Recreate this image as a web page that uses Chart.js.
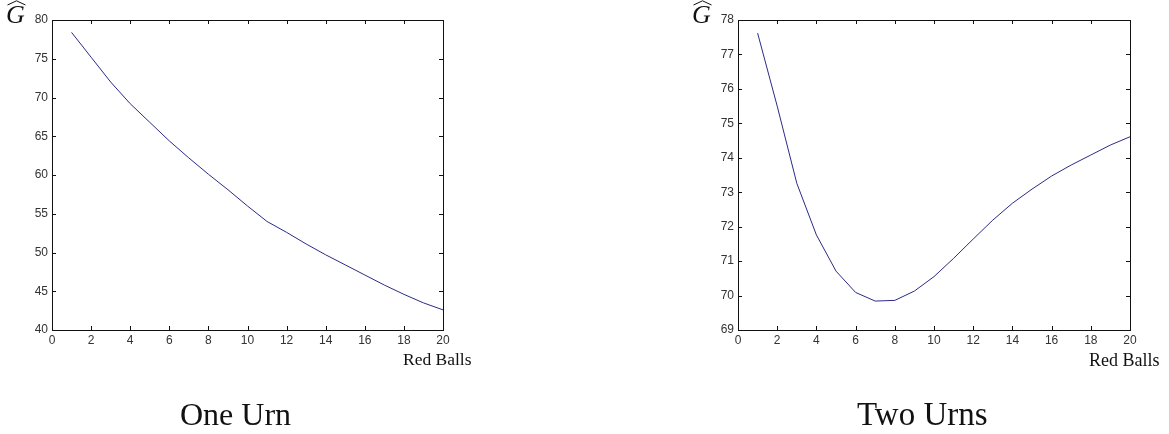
<!DOCTYPE html>
<html>
<head>
<meta charset="utf-8">
<script src="https://cdn.jsdelivr.net/npm/chart.js@4/dist/chart.umd.min.js"></script>
<style>
  html, body { margin: 0; padding: 0; background: #fff; }
  body { width: 1169px; height: 434px; position: relative; overflow: hidden; }
  .box { position: absolute; top: 0; height: 434px; }
  .txt { position: absolute; font-family: "Liberation Serif", "DejaVu Serif", serif; color: #111; line-height: 1; white-space: nowrap; }
  .g { font-style: italic; font-size: 26px; }
  .hat { position: absolute; }
</style>
</head>
<body>
<div class="box" style="left:0;width:480px"><canvas id="one"></canvas></div>
<div class="box" style="left:686px;width:483px"><canvas id="two"></canvas></div>

<span class="txt g" style="left:6px;top:2px">G</span>
<svg class="hat" style="left:7px;top:0" width="19" height="6"><polyline points="0.5,5 9.5,0.8 18.5,5" fill="none" stroke="#111" stroke-width="1"/></svg>
<span class="txt g" style="left:692px;top:2px">G</span>
<svg class="hat" style="left:693px;top:0" width="19" height="6"><polyline points="0.5,5 9.5,0.8 18.5,5" fill="none" stroke="#111" stroke-width="1"/></svg>

<span class="txt" style="left:403px;top:351px;font-size:17.5px">Red Balls</span>
<span class="txt" style="left:1089px;top:351px;font-size:18px">Red Balls</span>
<span class="txt" style="left:180px;top:398px;font-size:32px">One Urn</span>
<span class="txt" style="left:857px;top:398px;font-size:33px">Two Urns</span>

<script>
// number of red balls
const redBalls = [1, 2, 3, 4, 5, 6, 7, 8, 9, 10, 11, 12, 13, 14, 15, 16, 17, 18, 19, 20];
// G-hat, one urn
const oneUrn = [78.4, 75.2, 72.0, 69.2, 66.8, 64.4, 62.2, 60.1, 58.1, 56.0,
                54.0, 52.6, 51.1, 49.7, 48.4, 47.1, 45.8, 44.6, 43.5, 42.6];
// G-hat, two urns
const twoUrns = [77.62, 75.5, 73.26, 71.76, 70.71, 70.09, 69.84, 69.86, 70.13, 70.55,
                 71.08, 71.64, 72.19, 72.68, 73.09, 73.47, 73.79, 74.08, 74.37, 74.61];

const xTicks = [0, 2, 4, 6, 8, 10, 12, 14, 16, 18, 20];
const yTicksOne = [40, 45, 50, 55, 60, 65, 70, 75, 80];
const yTicksTwo = [69, 70, 71, 72, 73, 74, 75, 76, 77, 78];

// matlab style box with inward ticks on all sides
const frame = {
  id: 'frame',
  afterDraw(chart) {
    const { ctx, chartArea: a, scales: { x, y } } = chart;
    ctx.save();
    ctx.strokeStyle = '#111';
    ctx.lineWidth = 1;
    ctx.strokeRect(Math.round(a.left) + 0.5, Math.round(a.top) + 0.5,
                   Math.round(a.right - a.left), Math.round(a.bottom - a.top));
    ctx.beginPath();
    x.ticks.forEach(t => {
      const px = Math.round(x.getPixelForValue(t.value)) + 0.5;
      ctx.moveTo(px, a.bottom); ctx.lineTo(px, a.bottom - 4);
      ctx.moveTo(px, a.top); ctx.lineTo(px, a.top + 4);
    });
    y.ticks.forEach(t => {
      const py = Math.round(y.getPixelForValue(t.value)) + 0.5;
      ctx.moveTo(a.left, py); ctx.lineTo(a.left + 4, py);
      ctx.moveTo(a.right, py); ctx.lineTo(a.right - 4, py);
    });
    ctx.stroke();
    ctx.restore();
  }
};

function makeChart(id, values, yTicks, rightPad) {
  const tickFont = { family: 'Liberation Sans', size: 12 };
  return new Chart(document.getElementById(id), {
    type: 'line',
    data: {
      datasets: [{
        data: redBalls.map((r, i) => ({ x: r, y: values[i] })),
        borderColor: '#2a2a88',
        borderWidth: 1,
        pointRadius: 0,
        tension: 0,
        fill: false
      }]
    },
    options: {
      responsive: true,
      maintainAspectRatio: false,
      animation: false,
      events: [],
      layout: { padding: { top: 20, right: rightPad, left: 0, bottom: 0 } },
      plugins: { legend: { display: false }, tooltip: { enabled: false } },
      scales: {
        x: {
          type: 'linear',
          min: 0, max: 20,
          afterBuildTicks: s => { s.ticks = xTicks.map(v => ({ value: v })); },
          afterFit: s => { s.height = 104; },
          grid: { display: false, drawTicks: false },
          border: { display: false },
          ticks: { font: tickFont, color: '#333', padding: 3, maxRotation: 0 }
        },
        y: {
          min: yTicks[0], max: yTicks[yTicks.length - 1],
          afterBuildTicks: s => { s.ticks = yTicks.map(v => ({ value: v })); },
          afterFit: s => { s.width = 52; },
          grid: { display: false, drawTicks: false },
          border: { display: false },
          ticks: { font: tickFont, color: '#333', padding: 4 }
        }
      }
    },
    plugins: [frame]
  });
}

makeChart('one', oneUrn, yTicksOne, 37);
makeChart('two', twoUrns, yTicksTwo, 39);
</script>
</body>
</html>
